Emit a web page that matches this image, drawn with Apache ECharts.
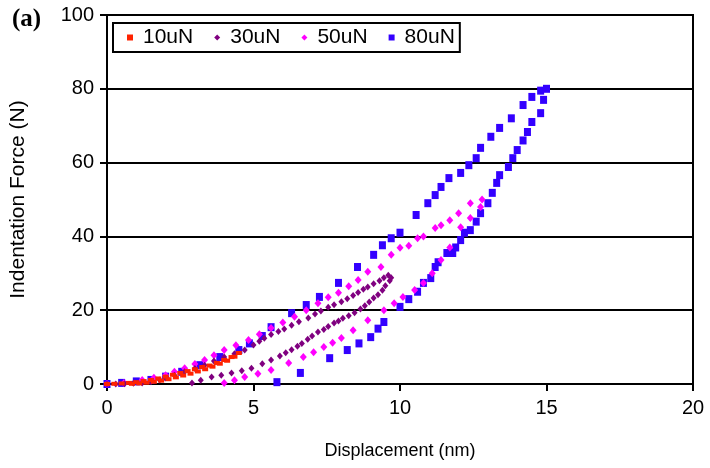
<!DOCTYPE html>
<html><head><meta charset="utf-8">
<script src="https://cdn.jsdelivr.net/npm/echarts@6/dist/echarts.min.js"></script>
<style>html,body{margin:0;padding:0;background:#fff}#c{width:710px;height:468px}</style>
</head><body><div id="c"></div>
<script>
const seriesNames = ['10uN', '30uN', '50uN', '80uN'];
const xTicks = [0, 5, 10, 15, 20];
const yTicks = [0, 20, 40, 60, 80, 100];

const disp10 = [0, 0.25, 0.5, 0.75, 1.0, 1.25, 1.5, 1.75, 2.0, 2.25, 2.5, 2.75, 3.0, 3.25, 3.5, 3.75, 4.0, 4.25, 4.5,
  4.35, 4.1, 3.85, 3.6, 3.35, 3.1, 2.85, 2.6, 2.35, 2.1, 1.85, 1.6, 1.35, 1.1, 0.85];
const force10 = [0, 0.05, 0.15, 0.3, 0.5, 0.8, 1.1, 1.5, 2.0, 2.5, 3.0, 3.5, 4.0, 4.6, 5.0, 5.7, 6.5, 7.3, 8.4,
  7.4, 6.3, 5.5, 4.7, 4.0, 3.4, 2.8, 2.3, 1.8, 1.3, 0.9, 0.6, 0.35, 0.15, 0.05];

const disp30 = [0, 0.3, 0.6, 0.9, 1.2, 1.5, 1.8, 2.0, 2.3, 2.65, 3.0, 3.33, 3.65, 4.0, 4.35, 4.7, 5.0, 5.2, 5.37, 5.6, 5.85, 6.05, 6.3, 6.55, 6.87, 7.1, 7.3, 7.55, 7.75, 8.0, 8.2, 8.4, 8.57, 8.75, 8.9, 9.1, 9.3, 9.45, 9.6,
  9.7, 9.65, 9.5, 9.4, 9.25, 9.1, 8.95, 8.8, 8.65, 8.45, 8.25, 8.05, 7.9, 7.75, 7.55, 7.4, 7.2, 7.0, 6.85, 6.65, 6.5, 6.3, 6.1, 5.9, 5.6, 5.3, 4.93, 4.6, 4.25, 3.9, 3.57, 3.2, 2.9];
const force30 = [0, 0, 0.1, 0.2, 0.3, 0.6, 1.1, 1.6, 2.4, 3.3, 4.2, 5.1, 6.2, 7.3, 8.2, 9.2, 10.6, 11.6, 12.4, 13.4, 14.2, 14.9, 15.9, 16.9, 17.9, 19.0, 19.8, 20.8, 21.5, 22.3, 23.1, 24.0, 24.8, 25.7, 26.3, 27.2, 28.0, 28.8, 29.5,
  28.8, 28.0, 26.6, 25.4, 24.2, 23.3, 22.2, 21.2, 20.3, 19.3, 18.5, 17.8, 17.1, 16.5, 15.6, 14.8, 14.1, 13.0, 12.1, 11.0, 10.2, 9.3, 8.5, 7.6, 6.5, 5.5, 4.3, 3.6, 3.0, 2.4, 1.9, 1.0, 0.3];

const disp50 = [0, 0.58, 1.2, 1.6, 2.0, 2.3, 2.65, 3.0, 3.33, 3.65, 4.0, 4.4, 4.83, 5.2, 5.6, 6.0, 6.4, 6.8, 7.2, 7.55, 7.9, 8.25, 8.57, 8.9, 9.35, 9.7, 10.0, 10.3, 10.6, 10.8, 11.2, 11.4, 11.7, 12.0, 12.4, 12.8,
  12.75, 12.4, 12.07, 11.7, 11.4, 11.1, 10.8, 10.5, 10.1, 9.8, 9.45, 8.9, 8.4, 8.0, 7.7, 7.4, 7.05, 6.7, 6.2, 5.6, 5.15, 4.7, 4.35, 4.0];
const force50 = [0, 0.3, 1.1, 1.7, 2.4, 3.3, 4.3, 5.4, 6.5, 7.8, 9.2, 10.5, 11.9, 13.5, 15.2, 16.7, 18.2, 20.0, 21.9, 23.5, 24.7, 26.5, 28.2, 30.4, 31.7, 35.0, 36.9, 37.5, 39.5, 40.0, 42.3, 43.0, 44.4, 46.3, 49.0, 50.0,
  48.0, 45.0, 42.5, 37.0, 33.6, 30.0, 27.4, 25.5, 23.6, 21.9, 20.0, 17.3, 14.6, 12.5, 11.2, 10.0, 8.6, 7.3, 5.7, 3.8, 2.8, 1.9, 1.0, 0.3];

const disp80 = [0, 0.5, 1.0, 1.5, 2.0, 2.55, 3.17, 3.85, 4.5, 4.86, 5.3, 5.6, 6.3, 6.8, 7.25, 7.9, 8.55, 9.1, 9.4, 9.7, 10.0, 10.55, 10.95, 11.2, 11.4, 11.67, 12.07, 12.35, 12.6, 12.75, 13.1, 13.4, 13.8, 14.2, 14.5, 14.8, 15.0,
  14.9, 14.8, 14.5, 14.35, 14.2, 14.0, 13.85, 13.7, 13.4, 13.3, 13.15, 13.0, 12.75, 12.6, 12.4, 12.2, 12.07, 11.9, 11.8, 11.6, 11.3, 11.2, 11.05, 10.8, 10.6, 10.3, 10.0, 9.45, 9.25, 9.0, 8.6, 8.2, 7.6, 6.6, 5.8];
const force80 = [0, 0.3, 0.7, 1.1, 2.0, 3.3, 5.1, 7.3, 9.2, 11.0, 13.0, 15.4, 19.2, 21.4, 23.6, 27.4, 31.7, 35.0, 37.6, 39.5, 41.0, 45.8, 49.0, 51.2, 53.4, 55.8, 57.2, 59.3, 61.2, 64.0, 67.0, 69.4, 72.0, 75.6, 77.8, 79.5, 80.0,
  77.0, 73.4, 71.0, 68.3, 66.0, 63.4, 61.2, 58.8, 56.6, 54.5, 51.8, 49.0, 46.3, 44.0, 41.7, 41.0, 39.0, 37.0, 35.5, 35.5, 33.0, 31.7, 28.7, 27.4, 25.0, 23.0, 20.9, 16.8, 15.0, 12.7, 11.0, 9.2, 7.0, 3.0, 0.5];

const zip = (a, b) => a.map((v, i) => [v, b[i]]);
const FONT = '"Liberation Sans", Arial, sans-serif';

const chart = echarts.init(document.getElementById('c'), null, {renderer: 'canvas'});
chart.setOption({
  animation: false,
  backgroundColor: '#fff',
  grid: {left: 105, right: 17, top: 15, bottom: 84, show: true, borderColor: '#000', borderWidth: 2, backgroundColor: 'transparent'},
  graphic: [{type: 'text', left: 12, top: 7, style: {text: '(a)', font: 'bold 25px "Liberation Serif", "Times New Roman", serif', fill: '#000'}}],
  legend: {
    left: 113, top: 23, orient: 'horizontal',
    data: [
      {name: '10uN', icon: 'rect', itemStyle: {color: '#ff2200'}},
      {name: '30uN', icon: 'diamond', itemStyle: {color: '#800080'}},
      {name: '50uN', icon: 'diamond', itemStyle: {color: '#ff00ff'}},
      {name: '80uN', icon: 'rect', itemStyle: {color: '#3300ff'}}
    ],
    backgroundColor: '#fff', borderColor: '#000', borderWidth: 2,
    padding: [4, 5, 4, 14], itemGap: 21, itemWidth: 6, itemHeight: 6,
    textStyle: {fontFamily: FONT, fontSize: 21, color: '#000', padding: [0, 0, 0, 5]}
  },
  xAxis: {
    type: 'value', min: 0, max: 20, interval: 5,
    name: 'Displacement (nm)', nameLocation: 'middle', nameGap: 58,
    nameTextStyle: {fontFamily: FONT, fontSize: 18, color: '#000'},
    axisLine: {lineStyle: {color: '#000', width: 2}},
    axisTick: {show: true, inside: false, length: 7, lineStyle: {color: '#000', width: 2}},
    axisLabel: {fontFamily: FONT, fontSize: 20, color: '#000', margin: 14, formatter: v => xTicks.includes(v) ? String(v) : ''},
    splitLine: {show: false}
  },
  yAxis: {
    type: 'value', min: 0, max: 100, interval: 20,
    name: 'Indentation Force (N)', nameLocation: 'middle', nameGap: 78,
    nameTextStyle: {fontFamily: FONT, fontSize: 21, color: '#000', padding: [0, 0, 0, 0]},
    axisLine: {show: true, lineStyle: {color: '#000', width: 2}},
    axisTick: {show: true, inside: false, length: 7, lineStyle: {color: '#000', width: 2}},
    axisLabel: {fontFamily: FONT, fontSize: 20, color: '#000', margin: 13, formatter: v => yTicks.includes(v) ? String(v) : ''},
    splitLine: {show: true, lineStyle: {color: '#000', width: 2}}
  },
  series: [
    {name: '10uN', type: 'scatter', data: zip(disp10, force10), symbol: 'rect', symbolSize: [6, 4], itemStyle: {color: '#ff2200', opacity: 1}, z: 5},
    {name: '30uN', type: 'scatter', data: zip(disp30, force30), symbol: 'diamond', symbolSize: [6, 7], itemStyle: {color: '#800080', opacity: 1}, z: 4},
    {name: '50uN', type: 'scatter', data: zip(disp50, force50), symbol: 'diamond', symbolSize: [7, 8], itemStyle: {color: '#ff00ff', opacity: 1}, z: 3},
    {name: '80uN', type: 'scatter', data: zip(disp80, force80), symbol: 'rect', symbolSize: [7, 8], itemStyle: {color: '#3300ff', opacity: 1}, z: 2}
  ]
});
</script></body></html>
